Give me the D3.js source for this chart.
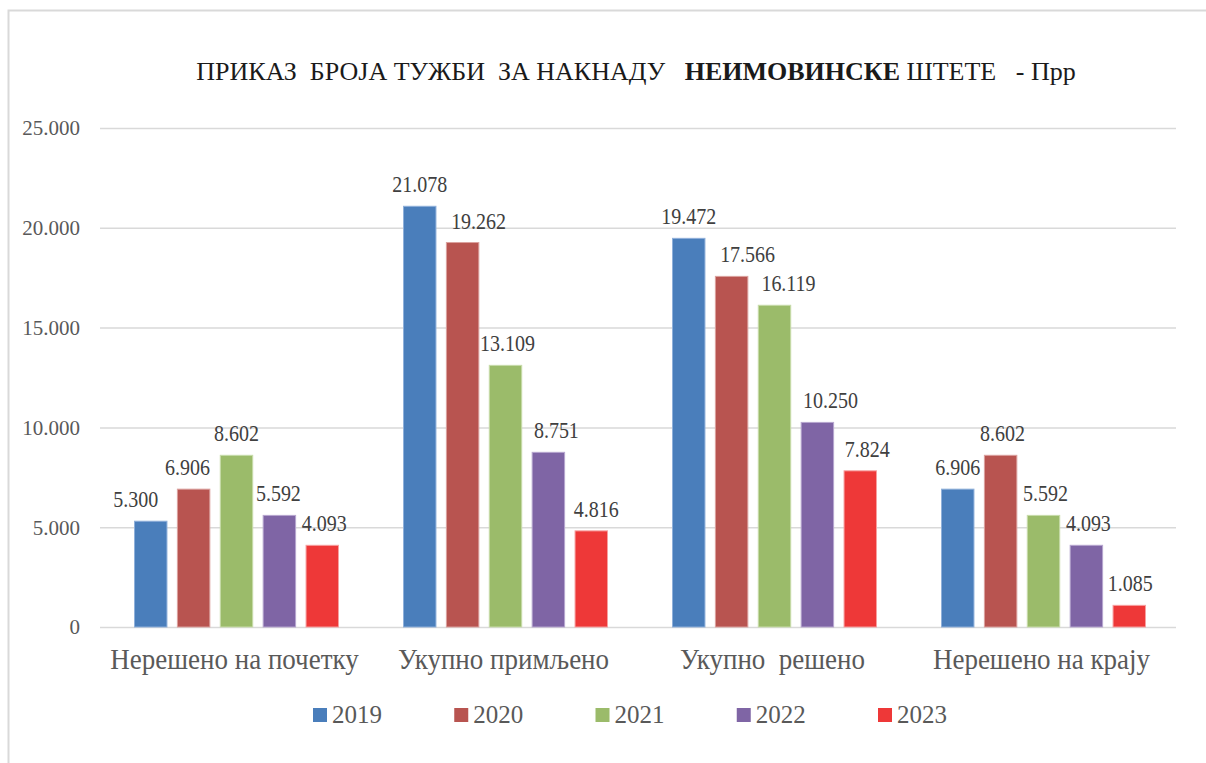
<!DOCTYPE html>
<html><head><meta charset="utf-8">
<script src="https://cdn.jsdelivr.net/npm/d3@7"></script>
<style>body{margin:0;background:#fff;} svg{display:block;}</style>
</head><body>
<svg id="c" width="1206" height="763" font-family="'Liberation Serif', 'Times New Roman', serif"></svg>
<script>
const categories = ["Нерешено на почетку", "Укупно примљено", "Укупно  решено", "Нерешено на крају"];
const years = ["2019", "2020", "2021", "2022", "2023"];
const values2019 = [5300, 21078, 19472, 6906];
const values2020 = [6906, 19262, 17566, 8602];
const values2021 = [8602, 13109, 16119, 5592];
const values2022 = [5592, 8751, 10250, 4093];
const values2023 = [4093, 4816, 7824, 1085];
const seriesValues = [values2019, values2020, values2021, values2022, values2023];
const colors = ["#4a7ebb", "#b85450", "#9bbb6a", "#7f65a5", "#ee3838"];
const strokes = ["#8fb0da", "#dba19e", "#c8dcab", "#b7a6cf", "#f7a0a0"];
const yTicks = [0, 5000, 10000, 15000, 20000, 25000];

// horizontal nudges of data labels, as placed in the original (series x category)
const labelNudge = [
  [-15, 0, 0, 0],
  [-6, 16, 16, 2],
  [0, 2, 14, 2],
  [-1, 8, 13, 2],
  [2, 5, 7, 1]
];

const FONT = "'Liberation Serif', 'Times New Roman', serif";
const svg = d3.select("#c");
// outer frame
svg.append("rect").attr("x", 8.5).attr("y", 10.5).attr("width", 1300).attr("height", 900)
  .attr("fill", "#fff").attr("stroke", "#d9d9d9").attr("stroke-width", 2);

const pLeft = 100, pRight = 1176, pTop = 128, pBottom = 627;
const y = d3.scaleLinear().domain([0, 25000]).range([pBottom, pTop]);
const x0 = d3.scaleBand().domain(categories).range([pLeft, pRight]).paddingInner(0).paddingOuter(0);
const groupW = x0.bandwidth();
const inner = 205;
const x1 = d3.scaleBand().domain(years).range([(groupW - inner) / 2 + 2, (groupW + inner) / 2 + 2]).paddingInner(0.22).paddingOuter(0);

const fmt = v => d3.format(",")(v).replace(/,/g, ".");

// gridlines
const yAxis = d3.axisLeft(y).tickValues(yTicks).tickSize(-(pRight - pLeft)).tickFormat(v => v === 0 ? "0" : fmt(v));
const ga = svg.append("g").attr("transform", `translate(${pLeft},0)`).call(yAxis);
ga.attr("font-family", FONT);
ga.select(".domain").remove();
ga.selectAll(".tick line").attr("stroke", "#d9d9d9").attr("stroke-width", 1.5);
ga.selectAll(".tick text").attr("x", -20).attr("fill", "#595959").attr("font-size", 21).attr("dy", "0.33em");

// bars
const groups = svg.append("g").selectAll("g").data(categories).join("g")
  .attr("transform", d => `translate(${x0(d)},0)`);
groups.each(function(cat, ci) {
  const g = d3.select(this);
  years.forEach((yr, si) => {
    const v = seriesValues[si][ci];
    g.append("rect").attr("x", x1(yr) + 0.5).attr("y", y(v)).attr("width", x1.bandwidth() - 1)
      .attr("height", pBottom - y(v)).attr("fill", colors[si]).attr("stroke", strokes[si]).attr("stroke-width", 1);
  });
});
// data labels (drawn after all bars)
const labelLayer = svg.append("g").selectAll("g").data(categories).join("g")
  .attr("transform", d => `translate(${x0(d)},0)`);
labelLayer.each(function(cat, ci) {
  const g = d3.select(this);
  years.forEach((yr, si) => {
    const v = seriesValues[si][ci];
    g.append("text")
      .attr("transform", `translate(${x1(yr) + x1.bandwidth() / 2 + labelNudge[si][ci]},${y(v) - 14}) scale(1,1.2)`)
      .attr("text-anchor", "middle").attr("fill", "#404040").attr("font-size", 20).text(fmt(v));
  });
});

// category labels
const xAxis = d3.axisBottom(x0).tickSize(0).tickPadding(0);
const gx = svg.append("g").attr("transform", `translate(0,${pBottom})`).call(xAxis);
gx.attr("font-family", FONT);
gx.select(".domain").remove();
gx.selectAll(".tick text").attr("y", 0).attr("dy", 0)
  .attr("transform", "translate(0,42) scale(1,1.1)").attr("fill", "#595959")
  .attr("font-size", 27).style("white-space", "pre").attr("xml:space", "preserve");

// title
const title = svg.append("text").attr("x", 636).attr("y", 80).attr("text-anchor", "middle")
  .attr("fill", "#1a1a1a").attr("font-size", 26).attr("xml:space", "preserve").style("white-space", "pre");
title.append("tspan").text("ПРИКАЗ  БРОЈА ТУЖБИ  ЗА НАКНАДУ   ");
title.append("tspan").attr("font-weight", "bold").text("НЕИМОВИНСКЕ");
title.append("tspan").text(" ШТЕТЕ   - Прр");

// legend
const legendX = d3.scalePoint().domain(years).range([313, 878]);
const lg = svg.append("g").selectAll("g").data(years).join("g")
  .attr("transform", d => `translate(${legendX(d)},708)`);
lg.append("rect").attr("width", 14).attr("height", 14).attr("fill", (d, i) => colors[i]);
lg.append("text").attr("x", 19).attr("y", 15).attr("fill", "#595959").attr("font-size", 25).text(d => d);
</script>
</body></html>
